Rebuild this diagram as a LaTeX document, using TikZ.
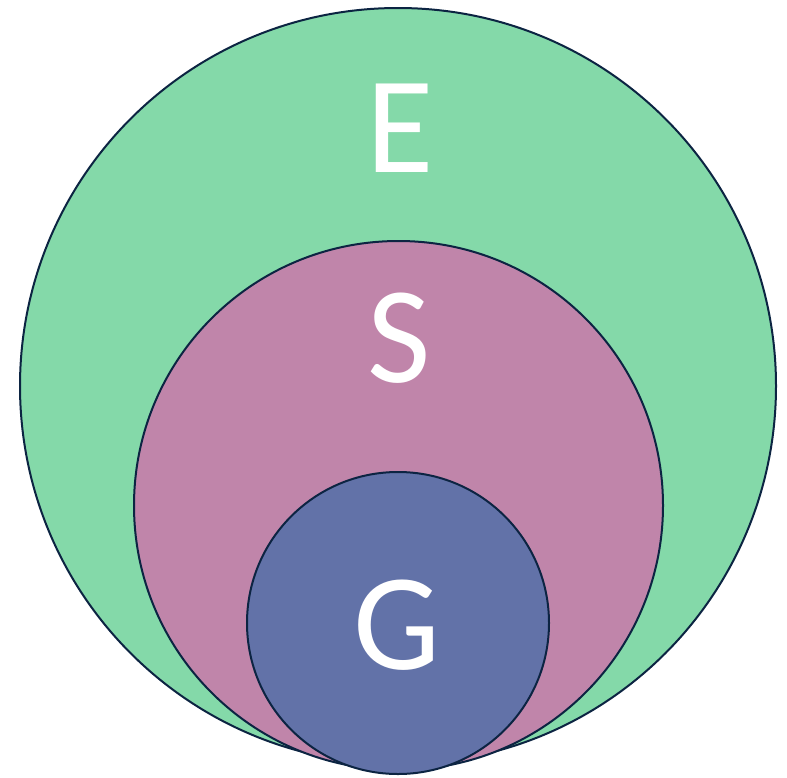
\documentclass[tikz,border=0pt]{standalone}
\usepackage{fontspec}
\setmainfont{Carlito}
\definecolor{egreen}{HTML}{84D9A9}
\definecolor{spink}{HTML}{C085AA}
\definecolor{gblue}{HTML}{6272A8}
\definecolor{rim}{HTML}{0C2442}
\begin{document}
\begin{tikzpicture}[x=1pt,y=-1pt,
  ring/.style={draw=rim,line width=2pt},
  letter/.style={text=white,font=\fontsize{138}{138}\selectfont,inner sep=0pt,anchor=base}]
\useasboundingbox (0,0) rectangle (787,777);
\fill[white] (0,0) rectangle (787,777);
\draw[ring,fill=egreen] (398,386) circle[radius=378];
\draw[ring,fill=spink] (398.5,505.5) circle[radius=264.5];
\draw[ring,fill=gblue] (398,623) circle[radius=151];
\node[letter] (e) at (400,172) {E};
\node[letter] (s) at (399,382) {S};
\node[letter] (g) at (397,669) {G};
\end{tikzpicture}
\end{document}
